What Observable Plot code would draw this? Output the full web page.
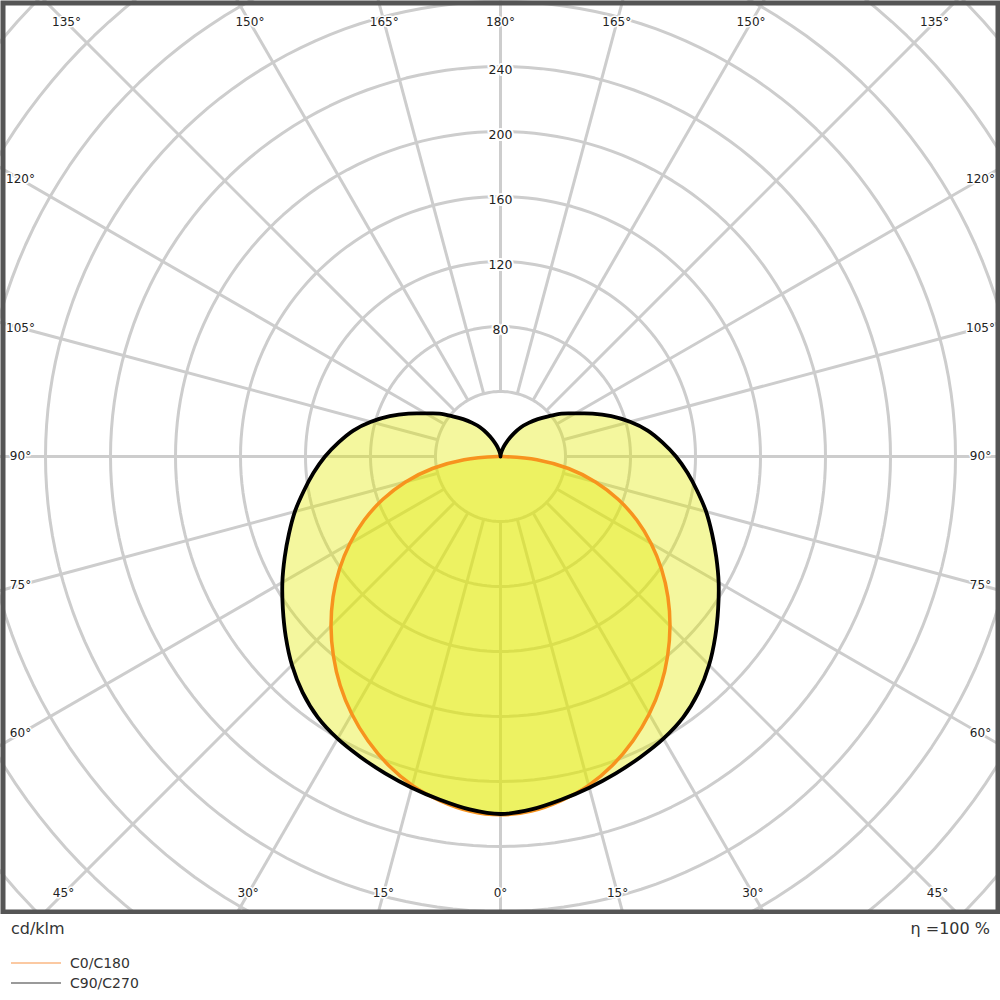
<!DOCTYPE html>
<html><head><meta charset="utf-8">
<script src="https://cdn.jsdelivr.net/npm/d3@7"></script>
<script src="https://cdn.jsdelivr.net/npm/@observablehq/plot@0.6"></script>
<style>
body{margin:0;background:#fff;font-family:"DejaVu Sans",sans-serif;}
#wrap{position:relative;width:1000px;height:1000px;overflow:hidden;}
#chart{position:absolute;left:0;top:0;}
.t{position:absolute;color:#333;line-height:18px;white-space:nowrap;}
.lg{position:absolute;height:2px;}
</style></head><body><div id="wrap"><div id="chart"></div></div>
<script>
// Gamma angles (degrees from nadir) and luminous intensity in cd/klm
const gammaAngles = [0,5,10,15,20,25,30,35,40,45,50,55,60,65,70,75,80,85,90,95,100,105,110,115,120,125,130,135,140,145,150,155,160,165,170,175,180];
const c0c180 = [220.5,219,215,209.5,202,193,183,172,160,147.5,134.5,121,107,92.5,77,60.5,42.5,22.5,1.5,0,0,0,0,0,0,0,0,0,0,0,0,0,0,0,0,0,0];
const c90c270 = [220,218,214.5,211,207.5,204,200.5,196,189.5,181.5,172.5,163.5,155,146.5,138.5,131,123,115.5,108,100,92,82.5,72.5,62.5,53,46,38.5,32.5,27,22,16.5,11.5,7.5,4.5,2.2,0.8,0];
const radialTicks = [40,80,120,160,200,240,280,320,360,400,440];
const radialLabels = [80,120,160,200,240];
const spokeAngles = d3.range(0,360,15);
const seriesNames = ["C0/C180","C90/C270"];
const unitText = "cd/klm";
const effText = "η =100 %";

const W = 1000, H = 914, cx = 500, cy = 456, k = 1.625;
const rad = d => d*Math.PI/180;

function polygon(vals){
  const pts = [];
  const push = p => { const l = pts[pts.length-1]; if(!l || Math.hypot(l.x-p.x,l.y-p.y) > 1e-6) pts.push(p); };
  gammaAngles.forEach((g,i)=>push({x: vals[i]*Math.sin(rad(g)), y: -vals[i]*Math.cos(rad(g))}));
  for(let i=gammaAngles.length-1;i>=0;i--){const g=gammaAngles[i]; push({x: -vals[i]*Math.sin(rad(g)), y: -vals[i]*Math.cos(rad(g))});}
  const f = pts[0], l = pts[pts.length-1];
  if(Math.hypot(f.x-l.x,f.y-l.y) < 1e-6) pts.pop();
  return pts;
}
const polyBlack = polygon(c90c270);
const polyOrange = polygon(c0c180);

const circles = radialTicks.flatMap(r => d3.range(0,361,2).map(a => ({r, x: r*Math.sin(rad(a)), y: r*Math.cos(rad(a))})));

// angle label positions: where each spoke meets an inset rectangle
const xEdge = (cx-20)/k, yTop = (cy-22)/k, yBot = (893-cy)/k;
const angleLabels = spokeAngles.map(a => {
  const dx = Math.sin(rad(a)), dy = -Math.cos(rad(a));
  let t = Infinity;
  if(Math.abs(dx) > 1e-9) t = Math.min(t, xEdge/Math.abs(dx));
  if(dy > 1e-9) t = Math.min(t, yTop/dy);
  if(dy < -1e-9) t = Math.min(t, yBot/(-dy));
  return {x: t*dx, y: t*dy, label: (a <= 180 ? a : 360-a) + "°"};
});

const grid = "#cdcdcd";
const fillCol = "#e3ea00";
const curve = "catmull-rom-closed";
const chart = Plot.plot({
  width: W, height: H, margin: 0,
  x: {domain: [-cx/k, (W-cx)/k], axis: null},
  y: {domain: [-(H-cy)/k, cy/k], axis: null},
  style: {background: "#fff", fontFamily: "DejaVu Sans, sans-serif"},
  marks: [
    Plot.line(circles, {x:"x", y:"y", z:"r", stroke: grid, strokeWidth: 3, clip: true}),
    Plot.link(spokeAngles, {x1: a=>40*Math.sin(rad(a)), y1: a=>40*Math.cos(rad(a)), x2: a=>700*Math.sin(rad(a)), y2: a=>700*Math.cos(rad(a)), stroke: grid, strokeWidth: 3, clip: true}),
    Plot.text(radialLabels, {x: 0, y: d=>d, text: d=>String(d), fontSize: 12.5, fill: "#222", stroke: "white", strokeWidth: 4, dy: 3}),
    Plot.text(angleLabels, {x:"x", y:"y", text:"label", fontSize: 12, fill: "#222", stroke: "white", strokeWidth: 3}),
    Plot.line(polyBlack, {x:"x", y:"y", fill: fillCol, fillOpacity: 0.38, stroke: "none", curve}),
    Plot.line(polyOrange, {x:"x", y:"y", fill: fillCol, fillOpacity: 0.38, stroke: "none", curve}),
    Plot.line(polyOrange, {x:"x", y:"y", stroke: "#f7931e", strokeWidth: 3.5, curve}),
    Plot.line(polyBlack, {x:"x", y:"y", stroke: "#000", strokeWidth: 3.8, curve}),
    Plot.frame({stroke: "#555", strokeWidth: 5, inset: 2.5})
  ]
});
document.getElementById("chart").appendChild(chart);

const wrap = document.getElementById("wrap");
function addText(txt, css){ const d = document.createElement("div"); d.className="t"; d.textContent = txt; Object.assign(d.style, css); wrap.appendChild(d); }
addText(unitText, {left: "11px", top: "920px", fontSize: "16px"});
addText(effText, {right: "10px", top: "920px", fontSize: "16px"});
const legendColors = ["#fbc9a2", "#9a9a9a"];
seriesNames.forEach((n,i) => {
  const l = document.createElement("div"); l.className = "lg";
  Object.assign(l.style, {left: "11px", top: (962+i*20)+"px", width: "50px", background: legendColors[i]});
  wrap.appendChild(l);
  addText(n, {left: "70px", top: (954+i*20)+"px", fontSize: "14px"});
});
</script></body></html>
